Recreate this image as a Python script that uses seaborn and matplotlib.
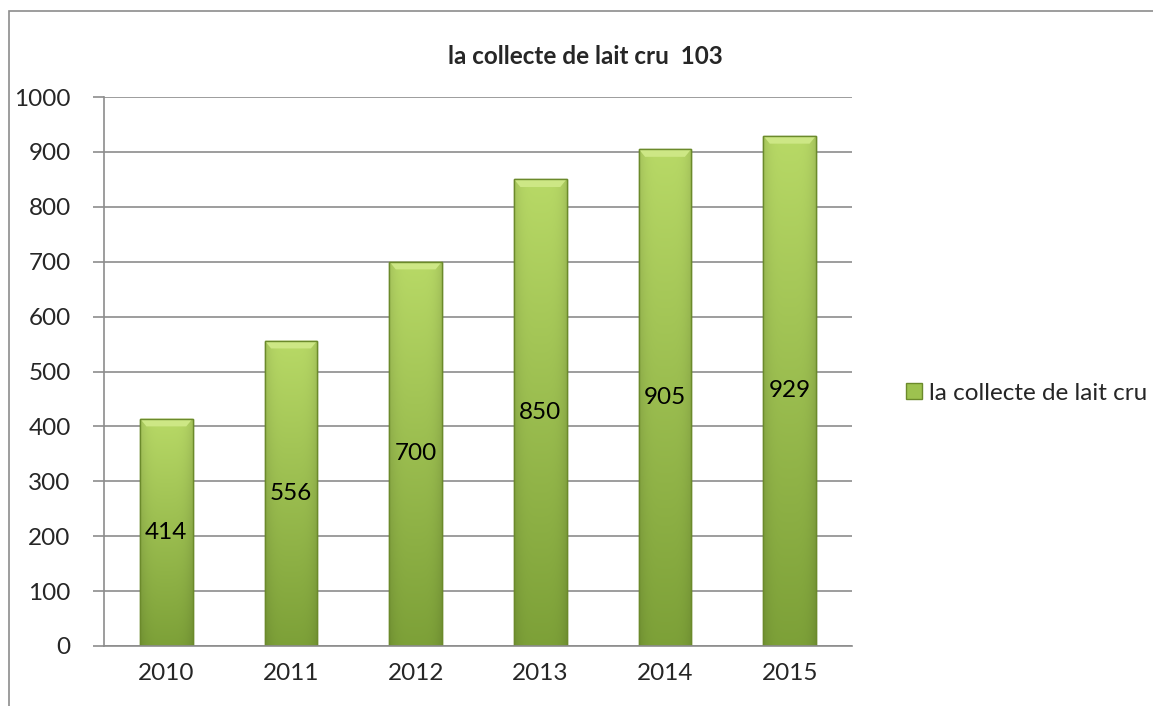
import numpy as np
import matplotlib
matplotlib.use("Agg")
import matplotlib.pyplot as plt
import matplotlib.patches as mpatches
import seaborn as sns
import pandas as pd

years = ["2010", "2011", "2012", "2013", "2014", "2015"]
collecte = [414, 556, 700, 850, 905, 929]
title = "la collecte de lait cru  103"
series_name = "la collecte de lait cru"

sns.set_style("white")
plt.rcParams['font.family'] = ['Lato', 'DejaVu Sans']

W, H = 1153, 706
fig = plt.figure(figsize=(W / 100, H / 100), dpi=100)
ax = fig.add_axes([104 / W, 1 - 646 / H, (852 - 104) / W, (646 - 97) / H])

df = pd.DataFrame({"year": years, "value": collecte})
sns.barplot(data=df, x="year", y="value", color="#9DC24F", width=0.42,
            edgecolor="#6B8A2B", linewidth=1, ax=ax, zorder=2)

# gradient fill clipped to each bar
ny, nx = 64, 32
yy = np.linspace(0, 1, ny)[:, None]
xx = np.linspace(-1, 1, nx)[None, :]
top = np.array([0.72, 0.85, 0.40])
bot = np.array([0.49, 0.63, 0.22])
base = bot + (top - bot) * yy[..., None]
shade = 1 - 0.10 * np.abs(xx[..., None]) ** 4
img = np.clip(base * shade, 0, 1)
for p in ax.patches:
    x0, y0 = p.get_x(), p.get_y()
    w, h = p.get_width(), p.get_height()
    im = ax.imshow(img, extent=[x0, x0 + w, y0, y0 + h], origin="lower",
                   aspect="auto", zorder=2.1, interpolation="bilinear")
    im.set_clip_path(p)
    # bevel highlight at top
    bev = 14
    ax.add_patch(mpatches.Polygon(
        [[x0, y0 + h], [x0 + w, y0 + h], [x0 + w * 0.88, y0 + h - bev], [x0 + w * 0.12, y0 + h - bev]],
        closed=True, facecolor="#CDE785", edgecolor="none", zorder=2.2))
    ax.add_patch(mpatches.Rectangle((x0, y0), w, h, fill=False,
                                    edgecolor="#6B8A2B", linewidth=1, zorder=2.3))

fs = 17.5
for i, v in enumerate(collecte):
    ax.text(i, v / 2, str(v), ha="center", va="center", fontsize=fs, color="black", zorder=3)

ax.set_xlim(-0.5, 5.5)
ax.set_ylim(0, 1000)
ax.set_yticks(np.arange(0, 1001, 100))
ax.set_xlabel("")
ax.set_ylabel("")
ax.yaxis.grid(True, color="#8C8C8C", linewidth=1.2)
ax.set_axisbelow(True)
for s in ["top", "right"]:
    ax.spines[s].set_visible(False)
for s in ["left", "bottom"]:
    ax.spines[s].set_color("#8C8C8C")
    ax.spines[s].set_linewidth(1.2)
ax.set_xticks(np.arange(-0.5, 6, 1), minor=True)
ax.tick_params(axis="x", which="major", length=0, pad=12, labelsize=fs)
ax.tick_params(axis="x", which="minor", length=8, color="#8C8C8C", direction="out", width=1.2)
ax.tick_params(axis="y", length=8, color="#8C8C8C", direction="out", width=1.2, pad=16, labelsize=fs, left=True)

fig.text(585 / W, 1 - 57 / H, title, ha="center", va="center", fontsize=fs, fontweight="bold")

handle = mpatches.Patch(facecolor="#9DC24F", edgecolor="#6B8A2B", label=series_name)
fig.legend(handles=[handle], loc="center left", bbox_to_anchor=(884 / W, 1 - 393 / H),
           frameon=False, fontsize=fs, handlelength=0.65, handleheight=0.65, handletextpad=0.3)

fig.add_artist(mpatches.Rectangle((9 / W, -0.1), 1.2, (H - 11) / H + 0.1,
                                  transform=fig.transFigure, fill=False,
                                  edgecolor="#8C8C8C", linewidth=1.2))

fig.savefig("out.png", dpi=100)
